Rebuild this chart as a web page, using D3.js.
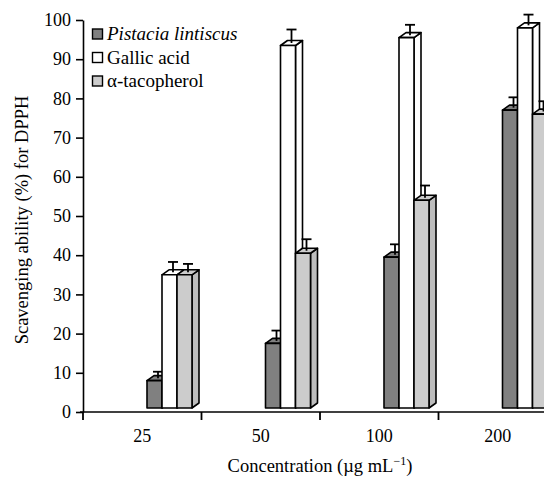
<!DOCTYPE html>
<html>
<head>
<meta charset="utf-8">
<script src="https://cdn.jsdelivr.net/npm/d3@7"></script>
<style>
  body { margin: 0; background: #fff; }
  text { font-family: "Liberation Serif", "DejaVu Serif", serif; }
</style>
</head>
<body>
<div id="chartdiv"></div>
<script>
// Data
var concentrations = ["25", "50", "100", "200"];
var seriesNames = ["Pistacia lintiscus", "Gallic acid", "α-tacopherol"];
var pistacia = [8, 17.5, 39.5, 77];
var gallic = [35, 93.5, 95.5, 98];
var tocopherol = [35, 40.5, 54, 76];
var pistaciaErr = [1, 2, 2, 2];
var gallicErr = [2, 2.8, 2, 2.1];
var tocopherolErr = [1.5, 2.3, 2.5, 2];
var yTicks = [0, 10, 20, 30, 40, 50, 60, 70, 80, 90, 100];

var svgWidth = 544;
var svgHeight = 477;

var fills = ["#808080", "#ffffff", "#cccccc"];
var sides = ["#6a6a6a", "#ffffff", "#bdbdbd"];
var depthX = 7, depthY = 5;

var svg = d3.select("#chartdiv")
    .append("svg")
    .attr("width", svgWidth)
    .attr("height", svgHeight);

var x0 = 83, y0 = 412;

var xScale = d3.scaleBand()
    .domain(concentrations)
    .range([x0, x0 + 4 * 118.5])
    .padding(0);

var xSub = d3.scaleBand()
    .domain(seriesNames)
    .range([64, 109]);

var yScale = d3.scaleLinear()
    .domain([0, 100])
    .range([y0, 20]);

var values = [pistacia, gallic, tocopherol];
var errors = [pistaciaErr, gallicErr, tocopherolErr];

// bars (fake 3D like the original)
concentrations.forEach(function (c, i) {
    seriesNames.forEach(function (s, k) {
        var v = values[k][i];
        var bx = xScale(c) + xSub(s);
        var bw = xSub.bandwidth();
        var top = yScale(v);
        var bottom = y0 - 4;
        var g = svg.append("g")
            .attr("stroke", "#000")
            .attr("stroke-width", 1.6)
            .attr("stroke-linejoin", "round");

        // side
        g.append("path")
            .attr("fill", sides[k])
            .attr("d", `M${bx + bw},${bottom} L${bx + bw + depthX},${bottom - depthY} L${bx + bw + depthX},${top - depthY} L${bx + bw},${top} Z`);
        // top
        g.append("path")
            .attr("fill", fills[k])
            .attr("d", `M${bx},${top} L${bx + depthX},${top - depthY} L${bx + bw + depthX},${top - depthY} L${bx + bw},${top} Z`);
        // front
        g.append("rect")
            .attr("x", bx)
            .attr("y", top)
            .attr("width", bw)
            .attr("height", bottom - top)
            .attr("fill", fills[k]);

        // error bar
        var ex = bx + bw / 2 + depthX / 2;
        var eTop = yScale(v + errors[k][i]) - depthY;
        svg.append("line")
            .attr("x1", ex).attr("x2", ex)
            .attr("y1", top - depthY / 2).attr("y2", eTop)
            .attr("stroke", "#000").attr("stroke-width", 1.8);
        svg.append("line")
            .attr("x1", ex - 5).attr("x2", ex + 5)
            .attr("y1", eTop).attr("y2", eTop)
            .attr("stroke", "#000").attr("stroke-width", 1.8);
    });
});

// y axis
var leftAxis = d3.axisLeft(yScale)
    .tickValues(yTicks)
    .tickSize(7)
    .tickSizeOuter(0)
    .tickPadding(5);

var yAxisG = svg.append("g")
    .attr("transform", `translate(${x0}, 0)`)
    .call(leftAxis);
yAxisG.selectAll("path, line").attr("stroke", "#000").attr("stroke-width", 1.6);
yAxisG.selectAll("text")
    .attr("font-size", 18)
    .attr("font-family", "Liberation Serif")
    .attr("fill", "#000");

// x axis
var bottomAxis = d3.axisBottom(xScale)
    .tickSize(0)
    .tickSizeOuter(0)
    .tickPadding(17);

var xAxisG = svg.append("g")
    .attr("transform", `translate(0, ${y0})`)
    .call(bottomAxis);
xAxisG.select(".domain")
    .attr("d", `M${x0 - 3},0 H${svgWidth + 20}`)
    .attr("stroke", "#000").attr("stroke-width", 1.6);
xAxisG.selectAll("text")
    .attr("font-size", 18)
    .attr("font-family", "Liberation Serif")
    .attr("fill", "#000");

// x tick marks between categories
svg.append("g").selectAll("line")
    .data(concentrations)
    .enter()
    .append("line")
    .attr("x1", d => xScale(d))
    .attr("x2", d => xScale(d))
    .attr("y1", y0)
    .attr("y2", y0 + 8)
    .attr("stroke", "#000")
    .attr("stroke-width", 1.8);

// axis labels
svg.append("text")
    .attr("transform", "rotate(-90)")
    .attr("x", -220)
    .attr("y", 28)
    .attr("text-anchor", "middle")
    .attr("font-size", 18.5)
    .text("Scavenging ability (%) for DPPH");

var xl = svg.append("text")
    .attr("x", 320)
    .attr("y", 472)
    .attr("text-anchor", "middle")
    .attr("font-size", 18.5);
xl.append("tspan").text("Concentration (µg mL");
xl.append("tspan").attr("dy", -7).attr("font-size", 12).text("−1");
xl.append("tspan").attr("dy", 7).text(")");

// legend
var legend = svg.append("g")
    .attr("transform", "translate(92, 34)");

seriesNames.forEach(function (s, k) {
    var row = legend.append("g")
        .attr("transform", `translate(0, ${k * 23.5})`);
    row.append("rect")
        .attr("x", 0.5)
        .attr("y", -5)
        .attr("width", 10)
        .attr("height", 10)
        .attr("fill", fills[k])
        .attr("stroke", "#000")
        .attr("stroke-width", 1.4);
    row.append("text")
        .attr("x", 15)
        .attr("y", 6)
        .attr("font-size", 19)
        .attr("font-style", k === 0 ? "italic" : "normal")
        .text(s);
});
</script>
</body>
</html>
